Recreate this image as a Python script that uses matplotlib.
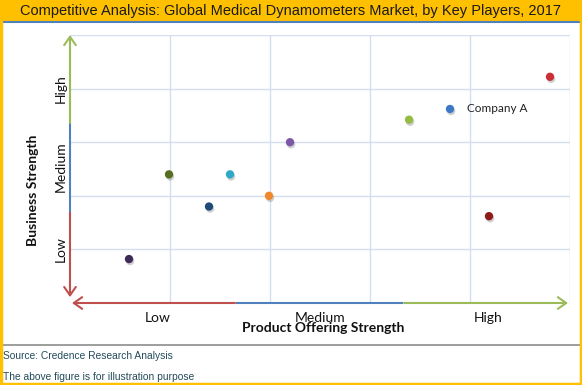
import matplotlib
matplotlib.use("Agg")
import matplotlib.pyplot as plt
import matplotlib.patheffects as pe
from matplotlib.patches import Rectangle
from matplotlib.lines import Line2D

W, H = 582, 385

# ---- data ----
product_strength = [0.59, 0.99, 1.39, 1.60, 1.99, 2.20, 3.39, 3.80, 4.19, 4.80]
business_strength = [0.82, 2.40, 1.80, 2.40, 2.00, 3.00, 3.42, 3.62, 1.62, 4.22]
point_colors = ["#3F2A57", "#566E1F", "#1F4A7A", "#2FA8C8", "#F0872A",
                "#7E58A8", "#94BC43", "#3C78C4", "#8E1A1A", "#CC2E35"]
labeled_point = 7
point_label = "Company A"
level_labels = ["Low", "Medium", "High"]
x_level_pos = [0.88, 2.5, 4.18]
y_level_pos = [1.0, 2.55, 4.0]

title = "Competitive Analysis: Global Medical Dynamometers Market, by Key Players, 2017"
xlabel = "Product Offering Strength"
ylabel = "Business Strength"
footer1 = "Source: Credence Research Analysis"
footer2 = "The above figure is for illustration purpose"

RED, BLUE, GREEN = "#C0504D", "#4F81BD", "#9BBB59"

fig = plt.figure(figsize=(W / 100, H / 100), dpi=100)

def fx(x):
    return x / W

def fy(y):
    return 1 - y / H

# frame / title bar
fig.patches.append(Rectangle((0, fy(21)), 1, 21 / H, transform=fig.transFigure,
                             facecolor="#FFC000", edgecolor="none", zorder=0))
fig.add_artist(Line2D([fx(1), fx(581)], [fy(21.5), fy(21.5)], color="#4F81BD", lw=1.5))
fig.add_artist(Line2D([fx(2), fx(580)], [fy(345), fy(345)], color="#8C8C8C", lw=1.2))
for xs, ys in [([fx(1), fx(1)], [0, fy(21)]), ([fx(581), fx(581)], [0, fy(21)]),
               ([0, 1], [fy(384), fy(384)])]:
    fig.add_artist(Line2D(xs, ys, color="#FFC000", lw=2.5))

fig.text(0.5, fy(11), title, ha="center", va="center", fontsize=10.5,
         family="Liberation Sans", color="#1A1A1A")
fig.text(fx(3), fy(356), footer1, ha="left", va="center", fontsize=7.4,
         family="Liberation Sans", color="#244B5C")
fig.text(fx(3), fy(377), footer2, ha="left", va="center", fontsize=7.4,
         family="Liberation Sans", color="#244B5C")

# plot axes
ax = fig.add_axes([fx(70), fy(303), (570 - 70) / W, (303 - 35) / H])
ax.set_xlim(0, 5)
ax.set_ylim(0, 5)
for s in ax.spines.values():
    s.set_visible(False)
ax.set_xticks([1, 2, 3, 4, 5])
ax.set_yticks([1, 2, 3, 4, 5])
ax.tick_params(length=0, labelbottom=False, labelleft=False)
ax.grid(True, color="#D3DFEE", lw=1.0)
ax.set_axisbelow(True)

def arrow(x0, y0, x1, y1, color):
    ax.annotate("", xy=(x1, y1), xytext=(x0, y0), xycoords="data",
                annotation_clip=False,
                arrowprops=dict(arrowstyle="->,head_length=0.6,head_width=0.42",
                                color=color, lw=1.5, shrinkA=0, shrinkB=0))

# y-axis arrow segments
arrow(0, 3.36, 0, 5.0, GREEN)
ax.plot([0, 0], [1.70, 3.34], color=BLUE, lw=1.5, clip_on=False)
arrow(0, 1.68, 0, 0.11, RED)
# x-axis arrow segments
arrow(1.65, 0, 0.02, 0, RED)
ax.plot([1.67, 3.32], [0, 0], color=BLUE, lw=1.5, clip_on=False)
arrow(3.34, 0, 4.98, 0, GREEN)

ax.scatter(product_strength, business_strength, s=36, c=point_colors, zorder=5,
           linewidths=0,
           path_effects=[pe.SimplePatchShadow(offset=(0.8, -1.5), shadow_rgbFace="#777777", alpha=0.35),
                         pe.Normal()])
ax.annotate(point_label, (product_strength[labeled_point], business_strength[labeled_point]),
            xytext=(12, 0), textcoords="offset points", va="center", ha="left",
            fontsize=8.5, family="Lato", color="#222222")

for lab, xp in zip(level_labels, x_level_pos):
    ax.text(xp, -0.28, lab, ha="center", va="center", fontsize=10, family="Lato",
            color="#111111", clip_on=False)
for lab, yp in zip(level_labels, y_level_pos):
    ax.text(-0.09, yp, lab, ha="center", va="center", rotation=90, fontsize=10,
            family="Lato", color="#111111", clip_on=False)

ax.text(2.53, -0.47, xlabel, ha="center", va="center", fontsize=10, family="Lato",
        fontweight="bold", color="#111111", clip_on=False)
ax.text(-0.37, 2.1, ylabel, ha="center", va="center", rotation=90, fontsize=10,
        family="Lato", fontweight="bold", color="#111111", clip_on=False)

fig.savefig("out.png", dpi=100)
